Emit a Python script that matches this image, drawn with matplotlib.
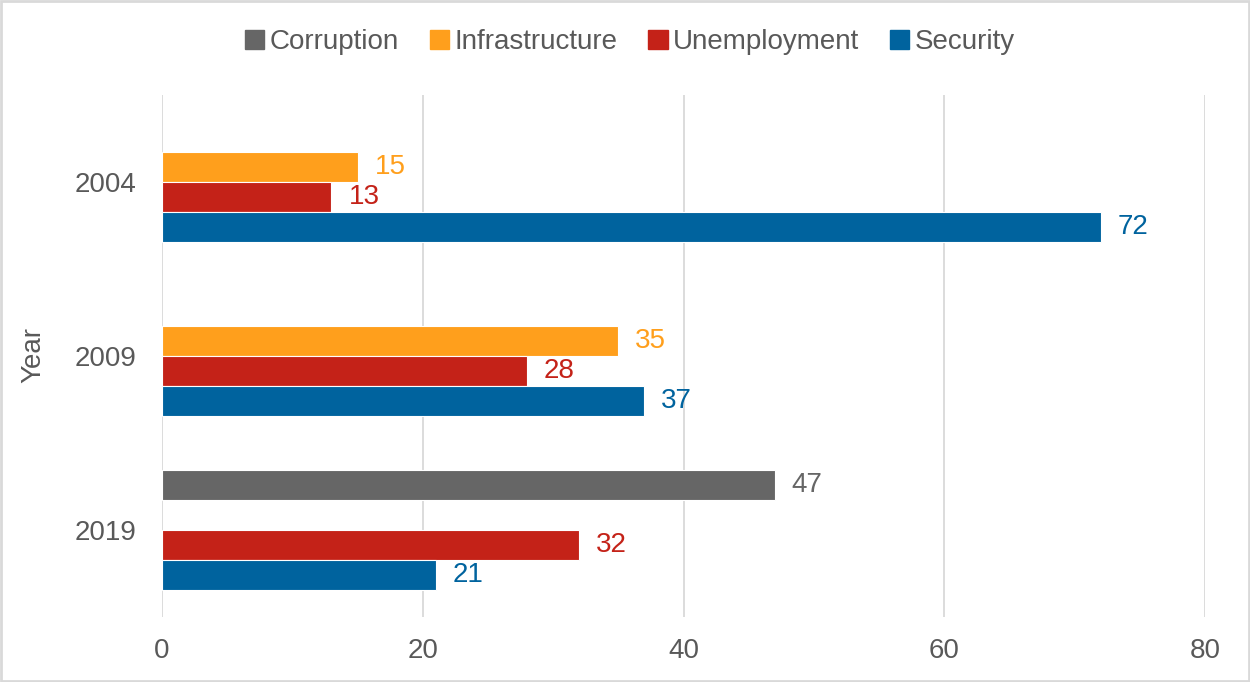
import matplotlib
matplotlib.use("Agg")
import matplotlib.pyplot as plt
from matplotlib.patches import Rectangle
import numpy as np

years = ["2004", "2009", "2019"]
series = ["Corruption", "Infrastructure", "Unemployment", "Security"]
values = {
    "Corruption":     [None, None, 47],
    "Infrastructure": [15, 35, None],
    "Unemployment":   [13, 28, 32],
    "Security":       [72, 37, 21],
}
colors = {
    "Corruption": "#666666",
    "Infrastructure": "#FF9F1C",
    "Unemployment": "#C42218",
    "Security": "#00639E",
}
xticks = [0, 20, 40, 60, 80]

plt.rcParams['font.family'] = ['Liberation Sans', 'DejaVu Sans']
text_color = "#595959"
grid_color = "#D9D9D9"
fs = 20

fig = plt.figure(figsize=(12.5, 6.82), dpi=100)
ax = fig.add_axes([162/1250, 1-617/682, (1205-162)/1250, (617-95)/682])

h = 0.1724
ypos = np.arange(len(years))
for i, s in enumerate(series):
    off = (i - 1.5) * h
    for j, v in enumerate(values[s]):
        if v is None:
            continue
        y = ypos[j] + off
        ax.barh(y, v, height=h, color=colors[s], edgecolor="white", linewidth=0.8, zorder=3)
        ax.text(v + 1.3, y, f"{v}", color=colors[s], fontsize=fs,
                va="center", ha="left", zorder=4)

ax.set_xlim(0, 80)
ax.set_ylim(2.5, -0.5)
ax.set_xticks(xticks)
ax.set_xticklabels([str(t) for t in xticks])
ax.set_yticks(ypos)
ax.set_yticklabels(years)
ax.tick_params(axis="both", length=0, labelsize=fs, labelcolor=text_color)
ax.tick_params(axis="x", pad=15)
ax.tick_params(axis="y", pad=18)
ax.grid(axis="x", color=grid_color, linewidth=1.3, zorder=0)
for sp in ax.spines.values():
    sp.set_visible(False)
fig.text(33/1250, 1-355/682, "Year", rotation=90, fontsize=fs, color=text_color,
         ha="center", va="center")

handles = [Rectangle((0, 0), 1, 1, color=colors[s]) for s in series]
fig.legend(handles, series, loc="center", bbox_to_anchor=(630/1250, 1-42/682), ncol=4,
           frameon=False, fontsize=fs, labelcolor=text_color,
           handlelength=0.7, handleheight=0.7, handletextpad=0.2, columnspacing=1.1)

fig.patches.append(Rectangle((0.001, 0.001), 0.998, 0.997, transform=fig.transFigure,
                             fill=False, edgecolor=grid_color, linewidth=2))

fig.savefig("out.png", dpi=100)
